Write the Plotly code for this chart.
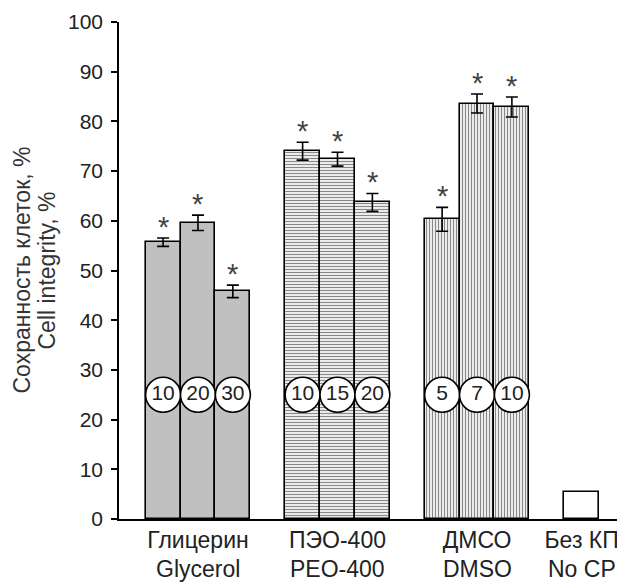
import plotly.graph_objects as go

# ---- data ----
groups_ru = ["Глицерин", "ПЭО-400", "ДМСО", "Без КП"]
groups_en = ["Glycerol", "PEO-400", "DMSO", "No CP"]
y_title_ru = "Сохранность клеток, %"
y_title_en = "Cell integrity, %"
glycerol_conc = ["10", "20", "30"]
glycerol_vals = [55.7, 59.6, 45.8]
glycerol_err = [0.85, 1.55, 1.25]
peo_conc = ["10", "15", "20"]
peo_vals = [74.0, 72.4, 63.7]
peo_err = [1.8, 1.4, 1.8]
dmso_conc = ["5", "7", "10"]
dmso_vals = [60.3, 83.6, 82.9]
dmso_err = [2.4, 1.9, 2.0]
nocp_vals = [5.5]
label_level = 25

glycerol_x = [0, 1, 2]
peo_x = [4, 5, 6]
dmso_x = [8, 9, 10]
nocp_x = [12]
group_x = [1, 5, 9, 12]

FONT = "Liberation Sans, Arial, sans-serif"
TXT = "#222222"

fig = go.Figure()

def add_bars(xs, vals, errs, fill, pattern=None):
    marker = dict(color=fill, line=dict(color="black", width=1.6))
    if pattern:
        marker["pattern"] = pattern
    fig.add_trace(go.Bar(
        x=xs, y=vals, width=1, marker=marker,
        error_y=dict(type="data", array=errs, visible=True, color="black",
                     thickness=1.6, width=6) if errs else None,
        showlegend=False, hoverinfo="skip"))

add_bars(glycerol_x, glycerol_vals, glycerol_err, "#c0c0c0")
add_bars(peo_x, peo_vals, peo_err, "white",
         dict(shape="-", size=3, solidity=0.45, fgcolor="#111111", bgcolor="white", fillmode="overlay"))
add_bars(dmso_x, dmso_vals, dmso_err, "white",
         dict(shape="|", size=3, solidity=0.45, fgcolor="#111111", bgcolor="white", fillmode="overlay"))
add_bars(nocp_x, nocp_vals, None, "white")

# asterisks
ast_x = glycerol_x + peo_x + dmso_x
ast_y = [v + e for v, e in zip(glycerol_vals + peo_vals + dmso_vals,
                               glycerol_err + peo_err + dmso_err)]
for x, y in zip(ast_x, ast_y):
    fig.add_annotation(x=x, y=y, text="*", showarrow=False, xanchor="center",
                       yanchor="bottom", yshift=-7,
                       font=dict(family=FONT, size=29, color="#444444"))

# concentration circles
circ_x = glycerol_x + peo_x + dmso_x
circ_t = glycerol_conc + peo_conc + dmso_conc
fig.add_trace(go.Scatter(
    x=circ_x, y=[label_level] * len(circ_x), mode="markers+text",
    text=circ_t, textposition="middle center",
    marker=dict(size=35, color="white", line=dict(color="black", width=1.6)),
    textfont=dict(family=FONT, size=21, color=TXT),
    showlegend=False, hoverinfo="skip"))

# second (English) line of the category labels
for x, t in zip(group_x, groups_en):
    fig.add_annotation(x=x, y=0, text=t, showarrow=False, xanchor="center",
                       yanchor="middle", yshift=-50, yref="y",
                       font=dict(family=FONT, size=23, color=TXT))

# y title, two lines
fig.add_annotation(xref="paper", yref="paper", x=0, y=0.5, text=y_title_ru,
                   textangle=-90, showarrow=False, xanchor="center", yanchor="middle",
                   xshift=-98, font=dict(family=FONT, size=23, color="#333333"))
fig.add_annotation(xref="paper", yref="paper", x=0, y=0.5, text=y_title_en,
                   textangle=-90, showarrow=False, xanchor="center", yanchor="middle",
                   xshift=-73, font=dict(family=FONT, size=23, color="#333333"))

fig.update_layout(
    width=617, height=575,
    margin=dict(l=111, r=0, t=14, b=64),
    paper_bgcolor="white", plot_bgcolor="white",
    font=dict(family=FONT, size=21, color=TXT),
    bargap=0,
    xaxis=dict(range=[-1.264, 13.243], tickvals=group_x, ticktext=groups_ru,
               showline=True, linecolor="black", linewidth=1.6,
               ticks="", showgrid=False, zeroline=False, automargin=False,
               tickfont=dict(family=FONT, size=23, color=TXT)),
    yaxis=dict(range=[0, 100], tickvals=list(range(0, 101, 10)),
               showline=True, linecolor="black", linewidth=1.6,
               ticks="outside", ticklen=6, tickwidth=1.6, tickcolor="black",
               showgrid=False, zeroline=False, automargin=False,
               ticklabelstandoff=4,
               tickfont=dict(family=FONT, size=21, color=TXT)),
)

fig.write_html("out.html")
